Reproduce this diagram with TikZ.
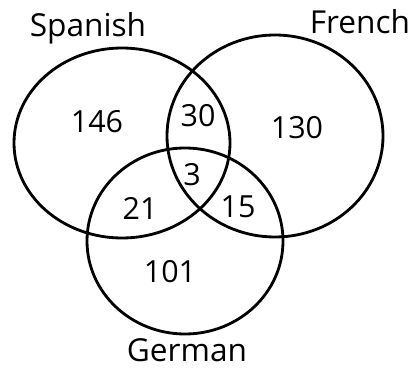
\documentclass[tikz,border=0pt]{standalone}
\usepackage{fontspec}
\setmainfont{Open Sans}
\usetikzlibrary{calc}

\begin{document}
\begin{tikzpicture}[x=0.03cm, y=-0.03cm, line width=2.4pt,
  num/.style={font=\fontsize{26}{28}\selectfont},
  set/.style={font=\fontsize{27}{29}\selectfont}]
  \useasboundingbox (0,0) rectangle (420,371);
  \coordinate (S) at (122, 143);
  \coordinate (F) at (275, 136);
  \coordinate (G) at (185, 241);

  % sets
  \draw (S) ellipse [x radius=108, y radius=95];
  \draw (F) ellipse [x radius=108, y radius=101];
  \draw (G) ellipse [x radius=98, y radius=93];

  \node[set] (spanish) at (88, 28)  {Spanish};
  \node[set] (french)  at (360, 22) {French};
  \node[set] (german)  at (187, 350) {German};

  \node[num] (s)   at (97, 122)  {146};
  \node[num] (sf)  at (198, 116) {30};
  \node[num] (f)   at (297, 128) {130};
  \node[num] (sfg) at (192, 175) {3};
  \node[num] (sg)  at (140, 208) {21};
  \node[num] (fg)  at (238, 207) {15};
  \node[num] (g)   at (170, 272) {101};
\end{tikzpicture}
\end{document}
